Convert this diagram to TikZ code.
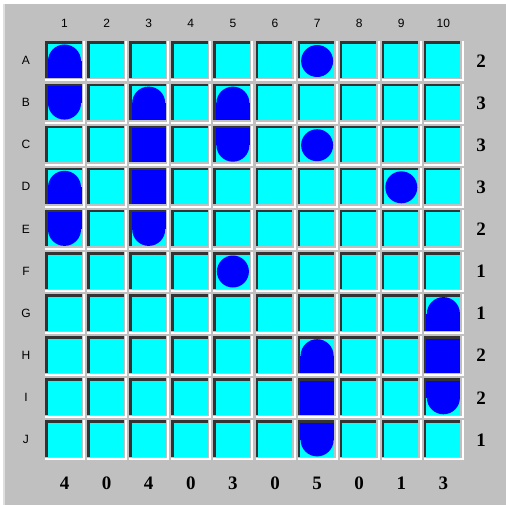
\documentclass[tikz,border=0pt]{standalone}
\usepackage{fontspec}
\newfontfamily\labelfont{Liberation Sans}
\newfontfamily\countfont{Liberation Serif}

\definecolor{panelgray}{RGB}{192,192,192}
\definecolor{panellight}{RGB}{223,223,223}
\definecolor{seacyan}{RGB}{0,255,255}
\definecolor{shipblue}{RGB}{0,0,255}

\tikzset{
    axislabel/.style={text=black, font=\labelfont\fontsize{12}{13}\selectfont},
    countlabel/.style={text=black, font=\countfont\bfseries\fontsize{19}{20}\selectfont},
}

\begin{document}
\begin{tikzpicture}[x=1pt, y=-1pt]
    \def\gridx{45}
    \def\gridy{41.5}
    \def\pitch{42.1}

    \useasboundingbox (0,0) rectangle (506,505);

    % Draw the panel
    \fill[white] (0,0) rectangle (506,505);
    \fill[panelgray] (3,4) rectangle (506,505);
    \fill[panellight] (3,4) rectangle (5,505);

    % Draw the sunken cells
    \foreach \c in {1,...,10}{
        \foreach \r in {1,...,10}{
            \begin{scope}[shift={(\gridx+\c*\pitch-\pitch, \gridy+\r*\pitch-\pitch)}]
                \fill[white] (0,0) rectangle (40,40);
                \fill[panelgray] (0,0) rectangle (38,38);
                \fill[black!80] (0,0) rectangle (36.5,36.5);
                \fill[seacyan] (2.5,2.5) rectangle (36.5,36.5);
            \end{scope}
        }
    }

    % Single ships
    \foreach \c/\r in {7/1, 7/3, 9/4, 5/6}{
        \fill[shipblue] (\gridx+\c*\pitch-\pitch+19.5, \gridy+\r*\pitch-\pitch+19.5) circle (16);
    }

    % Ship ends, open towards the bottom
    \foreach \c/\r in {1/1, 3/2, 5/2, 1/4, 10/7, 7/8}{
        \begin{scope}[shift={(\gridx+\c*\pitch-\pitch, \gridy+\r*\pitch-\pitch)}]
            \fill[shipblue] (19.5,19.5) circle (16.5);
            \fill[shipblue] (2.5,19.5) rectangle (36.5,36.5);
        \end{scope}
    }

    % Ship ends, open towards the top
    \foreach \c/\r in {1/2, 5/3, 1/5, 3/5, 10/9, 7/10}{
        \begin{scope}[shift={(\gridx+\c*\pitch-\pitch, \gridy+\r*\pitch-\pitch)}]
            \fill[shipblue] (19.5,19.5) circle (16.5);
            \fill[shipblue] (2.5,2.5) rectangle (36.5,19.5);
        \end{scope}
    }

    % Ship middles
    \foreach \c/\r in {3/3, 3/4, 10/8, 7/9}{
        \begin{scope}[shift={(\gridx+\c*\pitch-\pitch, \gridy+\r*\pitch-\pitch)}]
            \fill[shipblue] (2.5,2.5) rectangle (36.5,36.5);
        \end{scope}
    }

    % Column and row labels
    \foreach \c in {1,...,10}{
        \node[axislabel] (col\c) at (\gridx+\c*\pitch-\pitch+19.5, 23) {\c};
    }
    \foreach \l [count=\r] in {A,B,C,D,E,F,G,H,I,J}{
        \node[axislabel] (row\l) at (26, \gridy+\r*\pitch-\pitch+19) {\l};
    }

    % Ship counts per row and per column
    \foreach \n [count=\r] in {2,3,3,3,2,1,1,2,2,1}{
        \node[countlabel] (rowcount\r) at (481, \gridy+\r*\pitch-\pitch+19.5) {\n};
    }
    \foreach \n [count=\c] in {4,0,4,0,3,0,5,0,1,3}{
        \node[countlabel] (colcount\c) at (\gridx+\c*\pitch-\pitch+19.5, 483) {\n};
    }
\end{tikzpicture}
\end{document}
